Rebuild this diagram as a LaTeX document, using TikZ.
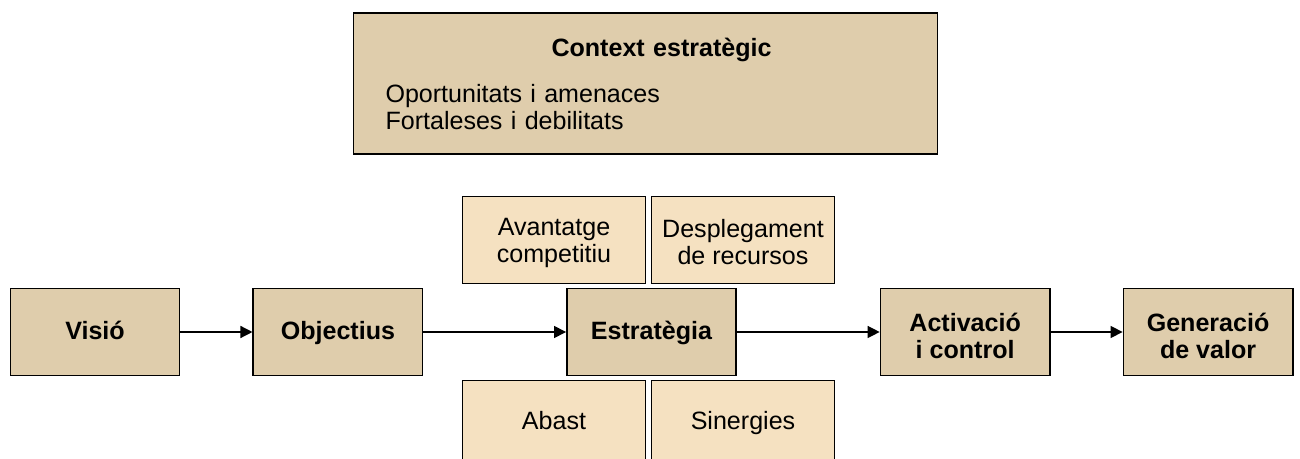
\documentclass[tikz,border=0pt]{standalone}
\usepackage{fontspec}
\setmainfont{Liberation Sans}
\usetikzlibrary{arrows.meta, positioning}
\definecolor{darktan}{HTML}{DFCDAC}
\definecolor{lighttan}{HTML}{F5E1C1}

\begin{document}
\begin{tikzpicture}[
    x=0.75pt, y=-0.75pt,
    node distance=54pt,
    mainbox/.style = {rectangle, draw, line width=1.2pt, fill=darktan, minimum width=127pt, minimum height=65pt, align=center, inner sep=2pt, font=\fontsize{18.8}{20.25}\selectfont\bfseries},
    subbox/.style = {rectangle, draw, line width=1.2pt, fill=lighttan, minimum width=137pt, minimum height=65pt, align=center, inner sep=2pt, font=\fontsize{18.8}{20.25}\selectfont},
    oneline/.style = {text height=15pt, text depth=3pt},
    ctxbox/.style = {rectangle, draw, line width=1.2pt, fill=darktan, minimum width=438pt, minimum height=106pt, inner xsep=24pt, text width=390pt, align=left, font=\fontsize{18.8}{20.25}\selectfont},
    >={Triangle[length=9pt,width=9pt]}]

    \clip (0,0) rectangle (1300,459);

    % top box
    \node[ctxbox] (context) at (645.5,83.5) {\hspace*{124.5pt}\textbf{Context estratègic}\\[14.25pt]
        Oportunitats i amenaces\\
        Fortaleses i debilitats};

    % main chain
    \node[mainbox, oneline] (visio) at (95,332) {Visió};
    \node[mainbox, oneline, right=54pt of visio] (objectius) {Objectius};
    \node[mainbox, oneline, right=107pt of objectius] (estrategia) {Estratègia};
    \node[mainbox, right=107pt of estrategia] (activacio) {\rule{0pt}{19pt}Activació\\i control};
    \node[mainbox, right=54pt of activacio] (generacio) {\rule{0pt}{19pt}Generació\\de valor};

    % boxes round the strategy
    \node[subbox] (avantatge) at (554,240) {\rule{0pt}{17pt}Avantatge\\competitiu};
    \node[subbox] (desplegament) at (743,240) {\rule{0pt}{17pt}Desplegament\\de recursos};
    \node[subbox, text height=13.5pt, text depth=4.5pt] (abast) at (554,424) {Abast};
    \node[subbox, text height=13.5pt, text depth=4.5pt] (sinergies) at (743,424) {Sinergies};

    \draw[->, line width=1pt] (visio) -- (objectius);
    \draw[->, line width=1pt] (objectius) -- (estrategia);
    \draw[->, line width=1pt] (estrategia) -- (activacio);
    \draw[->, line width=1pt] (activacio) -- (generacio);
\end{tikzpicture}
\end{document}
